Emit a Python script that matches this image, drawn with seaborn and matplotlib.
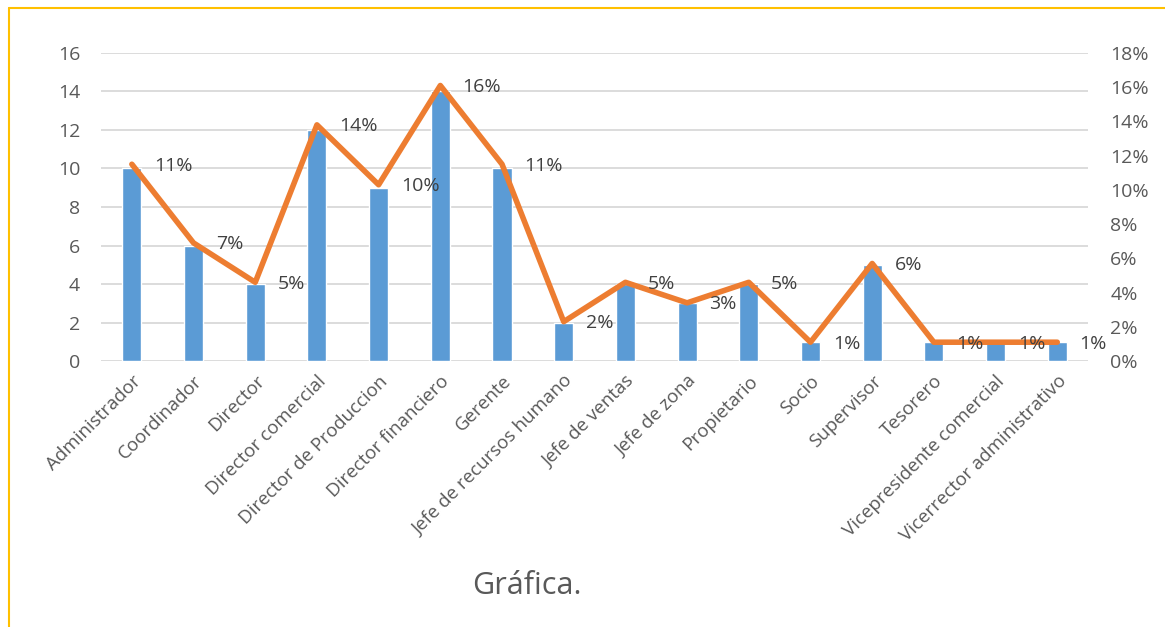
import numpy as np
import pandas as pd
import matplotlib
matplotlib.use('Agg')
import matplotlib.pyplot as plt
import seaborn as sns
from matplotlib.lines import Line2D
from matplotlib.ticker import PercentFormatter

sns.set_style("white")
plt.rcParams['font.family'] = ['Open Sans', 'DejaVu Sans']

# data
cargos = ['Administrador', 'Coordinador', 'Director', 'Director comercial',
          'Director de Produccion', 'Director financiero', 'Gerente',
          'Jefe de recursos humano', 'Jefe de ventas', 'Jefe de zona',
          'Propietario', 'Socio', 'Supervisor', 'Tesorero',
          'Vicepresidente comercial', 'Vicerrector administrativo']
cantidad = [10, 6, 4, 12, 9, 14, 10, 2, 4, 3, 4, 1, 5, 1, 1, 1]
porcentaje = [0.115, 0.069, 0.046, 0.138, 0.103, 0.161, 0.115, 0.023,
              0.046, 0.034, 0.046, 0.011, 0.057, 0.011, 0.011, 0.011]
etiquetas = ['11%', '7%', '5%', '14%', '10%', '16%', '11%', '2%',
             '5%', '3%', '5%', '1%', '6%', '1%', '1%', '1%']

df = pd.DataFrame({'cargo': cargos, 'cantidad': cantidad, 'pct': porcentaje})

GRAY = '#595959'
BLUE = '#5B9BD5'
ORANGE = '#ED7D31'

fig = plt.figure(figsize=(11.65, 6.27), dpi=100)
ax = fig.add_axes([0.0867, 0.4242, 0.8473, 0.4913])

sns.barplot(data=df, x='cargo', y='cantidad', color=BLUE, width=0.31,
            saturation=1, ax=ax, zorder=2)
ax.set_ylim(0, 16)
ax.set_yticks(range(0, 17, 2))
ax.set_xlim(-0.5, len(cargos) - 0.5)
ax.yaxis.grid(True, color='#D9D9D9', linewidth=1.3, zorder=0)
ax.set_axisbelow(True)
for s in ax.spines.values():
    s.set_visible(False)
ax.set_xlabel('')
ax.set_ylabel('')
ax.tick_params(axis='y', length=0, labelsize=14, labelcolor=GRAY, pad=15)
ax.tick_params(axis='x', length=0, labelsize=13.5, labelcolor=GRAY, pad=8)
ax.set_xticks(range(len(cargos)))
ax.set_xticklabels(cargos, rotation=45, ha='right', rotation_mode='anchor')

ax2 = ax.twinx()
sns.lineplot(x=np.arange(len(cargos)), y=df['pct'], color=ORANGE,
             linewidth=4, ax=ax2, zorder=3)
ax2.set_ylim(0, 0.18)
ax2.set_yticks(np.arange(0, 0.181, 0.02))
ax2.yaxis.set_major_formatter(PercentFormatter(1.0, decimals=0))
ax2.tick_params(axis='y', length=0, labelsize=14, labelcolor=GRAY, pad=16)
ax2.set_ylabel('')
for s in ax2.spines.values():
    s.set_visible(False)

for i, (p, lab) in enumerate(zip(porcentaje, etiquetas)):
    ax2.annotate(lab, (i, p), xytext=(16, -1), textcoords='offset points',
                 ha='left', va='center', fontsize=14, color='#404040')

fig.text(0.452, 0.066, 'Gráfica.', ha='center', va='center',
         fontsize=22, color=GRAY)

# frame lines (left and top only)
fig.add_artist(Line2D([0.0077, 0.0077], [0, 0.987], color='#FFC000',
                      linewidth=1.5, transform=fig.transFigure))
fig.add_artist(Line2D([0.0077, 1], [0.987, 0.987], color='#FFC000',
                      linewidth=1.5, transform=fig.transFigure))

plt.savefig('out.png', dpi=100)
